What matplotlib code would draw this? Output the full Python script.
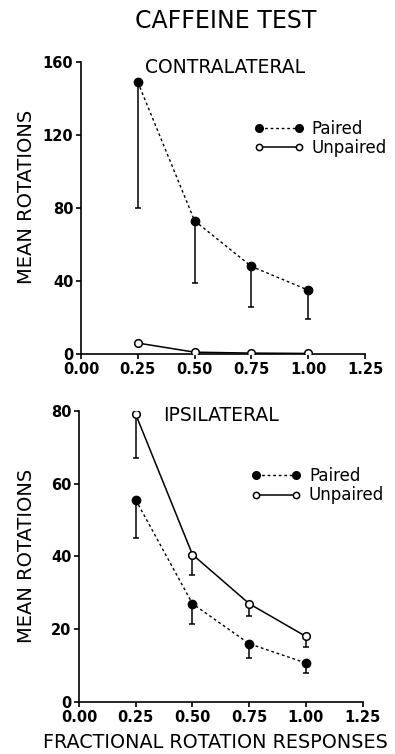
import numpy as np
import matplotlib.pyplot as plt

# data
frac = [0.25, 0.50, 0.75, 1.00]

contra_paired = [149, 73, 48, 35]
contra_paired_low = [80, 39, 26, 19]
contra_unpaired = [6, 1, 0.5, 0.3]

ipsi_paired = [55.5, 27, 16, 10.7]
ipsi_paired_low = [45, 21.5, 12, 8]
ipsi_unpaired = [79, 40.5, 27, 18]
ipsi_unpaired_low = [67, 35, 23.5, 15]

xticks = [0.00, 0.25, 0.50, 0.75, 1.00, 1.25]

plt.rcParams['font.family'] = ['DejaVu Sans']

fig = plt.figure(figsize=(3.95, 7.54), dpi=100)
ax1 = fig.add_axes([0.205, 0.5305, 0.719, 0.3873])
ax2 = fig.add_axes([0.200, 0.0690, 0.718, 0.3863])

fig.text(0.572, 0.972, 'CAFFEINE TEST', ha='center', va='center', fontsize=17)


def panel(ax, paired, paired_low, unpaired, unpaired_low, ymax, yticks,
          title, title_x, leg_x, leg_y, ylab_x, ylab_y):
    x = np.array(frac)
    p = np.array(paired)
    u = np.array(unpaired)
    ax.errorbar(x, p, yerr=[p - np.array(paired_low), np.zeros(4)], fmt='none',
                ecolor='black', elinewidth=1.1, capsize=2, capthick=1.1, zorder=2)
    if unpaired_low is not None:
        ax.errorbar(x, u, yerr=[u - np.array(unpaired_low), np.zeros(4)], fmt='none',
                    ecolor='black', elinewidth=1.1, capsize=2, capthick=1.1, zorder=2)
    ax.plot(x, p, ls=(0, (2, 2)), lw=1.0, color='black', marker='o', ms=6,
            mfc='black', mec='black', zorder=3, label='Paired')
    ax.plot(x, u, ls='-', lw=1.1, color='black', marker='o', ms=5.5,
            mfc='white', mec='black', mew=1.1, zorder=3, label='Unpaired')

    ax.set_xlim(0, 1.25)
    ax.set_ylim(0, ymax)
    ax.set_xticks(xticks)
    ax.set_xticklabels(['%.2f' % t for t in xticks])
    ax.set_yticks(yticks)
    ax.spines['top'].set_visible(False)
    ax.spines['right'].set_visible(False)
    ax.spines['left'].set_linewidth(1.2)
    ax.spines['bottom'].set_linewidth(1.2)
    ax.tick_params(direction='out', length=3.5, width=1.2, labelsize=10.5, pad=2)
    for lab in ax.get_xticklabels() + ax.get_yticklabels():
        lab.set_fontweight('bold')
    ax.set_ylabel('MEAN ROTATIONS', fontsize=14)
    ax.yaxis.set_label_coords(ylab_x, ylab_y)
    ax.text(title_x, 0.982, title, transform=ax.transAxes, fontsize=13.5,
            va='center', ha='left')
    leg = ax.legend(loc='center left', bbox_to_anchor=(leg_x, leg_y), frameon=False,
                    numpoints=2, handlelength=3.0, handletextpad=0.45, labelspacing=0.1,
                    fontsize=12, borderaxespad=0, borderpad=0)
    leg.legend_handles[1].set_markersize(4.5)
    leg.legend_handles[0].set_markersize(5.5)


panel(ax1, contra_paired, contra_paired_low, contra_unpaired, None,
      160, [0, 40, 80, 120, 160], 'CONTRALATERAL', 0.225, 0.61, 0.738, -0.158, 0.538)
panel(ax2, ipsi_paired, ipsi_paired_low, ipsi_unpaired, ipsi_unpaired_low,
      80, [0, 20, 40, 60, 80], 'IPSILATERAL', 0.296, 0.608, 0.743, -0.151, 0.5)
ax2.set_xlabel('FRACTIONAL ROTATION RESPONSES', fontsize=13.8)
ax2.xaxis.set_label_coords(0.48, -0.105)

fig.savefig('out.png', dpi=100)
